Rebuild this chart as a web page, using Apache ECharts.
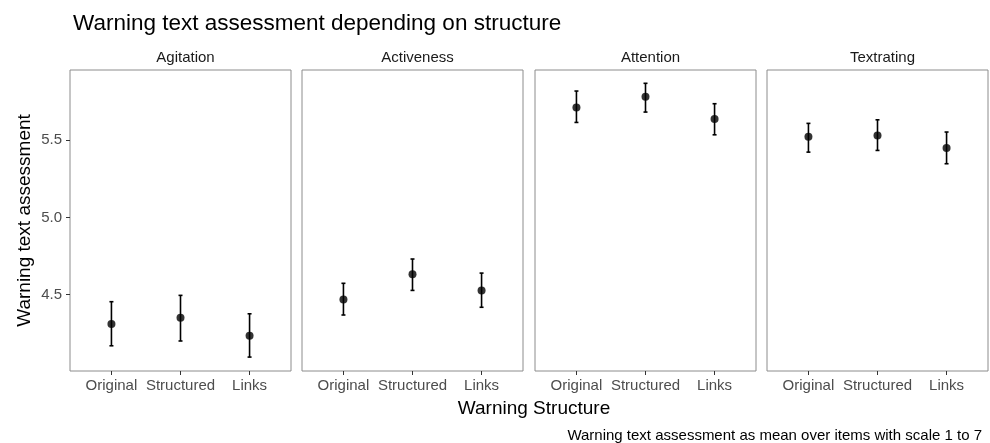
<!DOCTYPE html>
<html>
<head>
<meta charset="utf-8">
<script src="https://cdn.jsdelivr.net/npm/echarts@6/dist/echarts.min.js"></script>
<style>
html,body{margin:0;padding:0;background:#fff}
#main{width:990px;height:443px}
</style>
</head>
<body>
<div id="main"></div>
<script>
// data
var facets = ['Agitation', 'Activeness', 'Attention', 'Textrating'];
var structures = ['Original', 'Structured', 'Links'];
var yTicks = [4.5, 5.0, 5.5];

var means = [
    [4.311, 4.351, 4.235],
    [4.470, 4.632, 4.528],
    [5.711, 5.780, 5.636],
    [5.521, 5.530, 5.448]
];
var lowers = [
    [4.170, 4.201, 4.097],
    [4.369, 4.528, 4.419],
    [5.614, 5.681, 5.534],
    [5.422, 5.433, 5.347]
];
var uppers = [
    [4.455, 4.496, 4.377],
    [4.574, 4.731, 4.640],
    [5.817, 5.867, 5.735],
    [5.608, 5.631, 5.552]
];

var font = 'Liberation Sans, Arial, Helvetica, sans-serif';
var panelLeft = [70, 302, 535, 767];
var panelWidth = 221;

var grids = [], xAxes = [], yAxes = [], series = [];
var titles = [{
    text: 'Warning text assessment depending on structure',
    left: 68, top: 7,
    textStyle: {fontFamily: font, fontSize: 22.5, fontWeight: 'normal', color: '#000'}
}];

facets.forEach(function (name, i) {
    grids.push({
        left: panelLeft[i], top: 70, width: panelWidth, height: 301,
        show: true, borderColor: '#8c8c8c', borderWidth: 1, backgroundColor: '#fff'
    });
    xAxes.push({
        type: 'value', gridIndex: i, min: -0.6, max: 2.6,
        splitLine: {show: false},
        axisLine: {show: false, onZero: false},
        axisTick: {show: true, customValues: [0, 1, 2], length: 4, lineStyle: {color: '#333'}},
        axisLabel: {
            customValues: [0, 1, 2], margin: 7,
            fontFamily: font, fontSize: 15, color: '#4d4d4d',
            formatter: function (v) { return structures[Math.round(v)]; }
        }
    });
    yAxes.push({
        type: 'value', gridIndex: i, min: 4.007, max: 5.953,
        name: i === 0 ? 'Warning text assessment' : '',
        nameLocation: 'middle', nameGap: 36,
        nameTextStyle: {fontFamily: font, fontSize: 19, color: '#000'},
        splitLine: {show: false},
        axisLine: {show: false, onZero: false},
        axisTick: {show: i === 0, customValues: yTicks, length: 4, lineStyle: {color: '#333'}},
        axisLabel: {
            show: i === 0, customValues: yTicks, margin: 8,
            fontFamily: font, fontSize: 15, color: '#4d4d4d',
            formatter: function (v) { return v.toFixed(1); }
        }
    });
    titles.push({
        text: name, left: panelLeft[i] + panelWidth / 2, top: 45, textAlign: 'center',
        textStyle: {fontFamily: font, fontSize: 15, fontWeight: 'normal', color: '#1a1a1a'}
    });

    var barData = structures.map(function (s, j) { return [j, lowers[i][j], uppers[i][j]]; });
    var pointData = structures.map(function (s, j) { return [j, means[i][j]]; });

    series.push({
        type: 'custom', xAxisIndex: i, yAxisIndex: i,
        data: barData,
        encode: {x: 0, y: [1, 2]},
        renderItem: function (params, api) {
            var lo = api.coord([api.value(0), api.value(1)]);
            var hi = api.coord([api.value(0), api.value(2)]);
            var w = 2;
            var st = {stroke: '#000', lineWidth: 1.6};
            return {
                type: 'group',
                children: [
                    {type: 'line', shape: {x1: lo[0], y1: lo[1], x2: hi[0], y2: hi[1]}, style: st},
                    {type: 'line', shape: {x1: hi[0] - w, y1: hi[1], x2: hi[0] + w, y2: hi[1]}, style: st},
                    {type: 'line', shape: {x1: lo[0] - w, y1: lo[1], x2: lo[0] + w, y2: lo[1]}, style: st}
                ]
            };
        },
        silent: true, z: 2
    });
    series.push({
        type: 'scatter', xAxisIndex: i, yAxisIndex: i,
        data: pointData, symbolSize: 8,
        itemStyle: {color: '#000'},
        silent: true, z: 3
    });
});

titles.push({
    text: 'Warning Structure', left: 529, top: 394, textAlign: 'center',
    textStyle: {fontFamily: font, fontSize: 19, fontWeight: 'normal', color: '#000'}
});
titles.push({
    text: 'Warning text assessment as mean over items with scale 1 to 7',
    right: 3, top: 423,
    textStyle: {fontFamily: font, fontSize: 15, fontWeight: 'normal', color: '#000'}
});

var myChart = echarts.init(document.getElementById('main'));
var option = {
    animation: false,
    backgroundColor: '#fff',
    title: titles,
    grid: grids,
    xAxis: xAxes,
    yAxis: yAxes,
    series: series
};
myChart.setOption(option);
</script>
</body>
</html>
